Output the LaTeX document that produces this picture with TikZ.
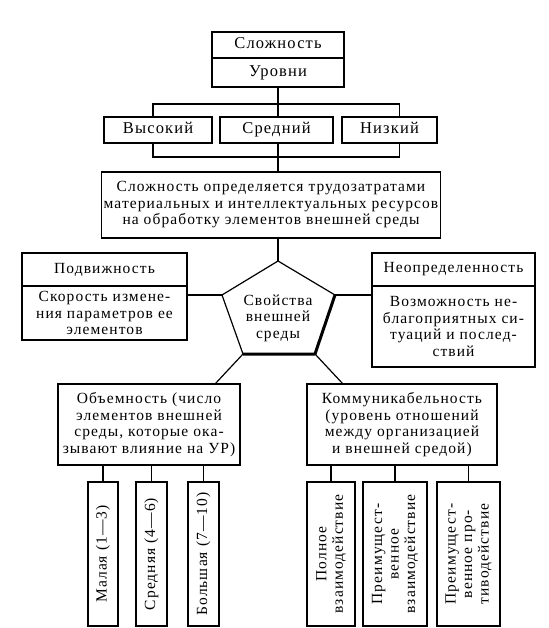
\documentclass[tikz,border=0pt]{standalone}
\usepackage{fontspec}
\setmainfont{Liberation Serif}
\usetikzlibrary{positioning}

\newcommand\txtfont{\fontsize{15.5}{16.5}\selectfont\addfontfeature{LetterSpace=7}}
\newcommand\hdfont{\fontsize{16.5}{19}\selectfont\addfontfeature{LetterSpace=7}}

\begin{document}
\begin{tikzpicture}[
    x=1pt, y=-1pt,
    line width=1.2pt,
    box/.style={rectangle, draw, align=center, outer sep=0pt, inner sep=2pt, font=\txtfont},
    topbox/.style={box, font=\hdfont, minimum height=26pt, text height=11.5pt, text depth=3.5pt},
    sidebox/.style={box, rotate=90, minimum width=144pt},
    thickedge/.style={line width=3pt}
]
\useasboundingbox (0,0) rectangle (548,628);

% 1. Complexity and levels
\node[topbox, minimum width=132pt] (cplx) at (278,45) {Сложность};
\node[topbox, minimum width=132pt, minimum height=29pt, below=0pt of cplx] (lvl) {Уровни};

% 2. Level boxes
\node[topbox, minimum width=113pt] (mid) at (276.5,130) {Средний};
\node[topbox, minimum width=108pt, left=8pt of mid] (high) {Высокий};
\node[topbox, minimum width=95pt, right=9pt of mid] (low) {Низкий};

% 3. Definition
\node[box, minimum width=334pt, minimum height=66pt] (defn) at (271,205) {Сложность определяется трудозатратами\\ материальных и интеллектуальных ресурсов\\ на обработку элементов внешней среды};

% 4. Pentagon
\coordinate (ptop) at (278,261);
\coordinate (pright) at (335,295);
\coordinate (pbr) at (315,354);
\coordinate (pbl) at (243,354);
\coordinate (pleft) at (222,295);
\draw[line join=round] (pbl) -- (pleft) -- (ptop) -- (pright);
\draw[thickedge, line join=round] (pright) -- (pbr) -- (pbl);
\node[box, draw=none] (env) at (278,318) {Свойства\\ внешней\\ среды};

% 5. Side boxes
\node[box, minimum width=165pt, minimum height=33pt] (mobh) at (104.5,269.5) {Подвижность};
\node[box, minimum width=165pt, minimum height=54pt, below=0pt of mobh] (mobb) {Скорость измене-\\ния параметров ее\\элементов};
\node[box, minimum width=163pt, minimum height=33pt] (unch) at (453.5,269.5) {Неопределенность};
\node[box, minimum width=163pt, minimum height=81pt, below=0pt of unch] (uncb) {Возможность не-\\благоприятных си-\\туаций и послед-\\ствий};

% 6. Lower boxes
\node[box, minimum width=182pt, minimum height=81pt] (vol) at (149,424.5) {Объемность (число\\элементов внешней\\среды, которые ока-\\зывают влияние на УР)};
\node[box, minimum width=190pt, minimum height=81pt] (com) at (402,424.5) {Коммуникабельность\\(уровень отношений\\между организацией\\и внешней средой)};

% 7. Rotated boxes
\node[sidebox, minimum height=30pt] (small) at (103,554) {Малая (1—3)};
\node[sidebox, minimum height=31pt] (medium) at (151.5,554) {Средняя (4—6)};
\node[sidebox, minimum height=31pt] (large) at (203.5,554) {Большая (7—10)};
\node[sidebox, minimum height=48pt] (full) at (331,554) {Полное\\взаимодействие};
\node[sidebox, minimum height=64pt] (mostint) at (395,554) {Преимущест-\\венное\\взаимодействие};
\node[sidebox, minimum height=63pt] (mostopp) at (468.5,554) {Преимущест-\\венное про-\\тиводействие};

% 8. Connections
\draw (lvl.south) -- (lvl.south |- mid.north);
\draw ([xshift=-5pt]high.north) -- ++(0,-13) -| ([xshift=10pt]low.north);
\draw ([xshift=-5pt]high.south) -- ++(0,14) -| ([xshift=10pt]low.south);
\draw (lvl.south |- mid.south) -- (lvl.south |- defn.north);
\draw (ptop |- defn.south) -- (ptop);
\draw (mobb.east |- pleft) -- (pleft);
\draw (pright) -- (pright -| uncb.west);
\draw (pbl) -- ([xshift=-25pt]vol.north east);
\draw (pbr) -- ([xshift=36pt]com.north west);
\foreach \b in {small, medium, large} \draw (\b.east) -- (\b.east |- vol.south);
\foreach \b in {full, mostint, mostopp} \draw (\b.east) -- (\b.east |- com.south);

\end{tikzpicture}
\end{document}
